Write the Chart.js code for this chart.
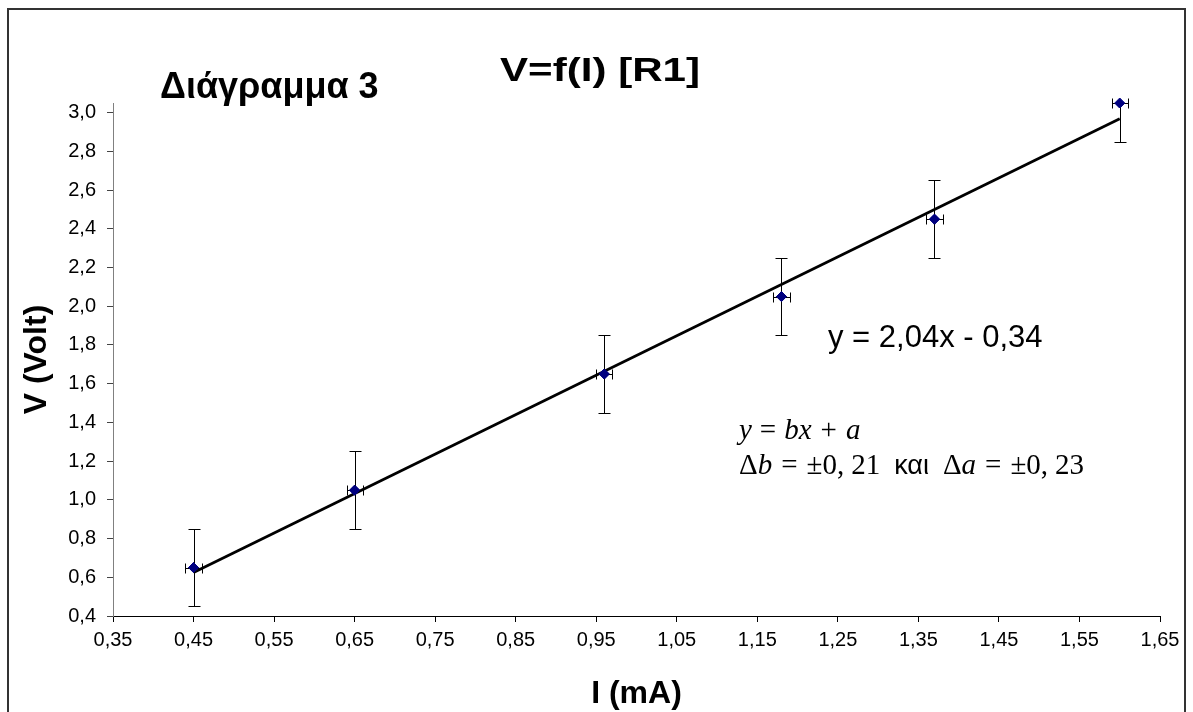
<!DOCTYPE html>
<html>
<head>
<meta charset="utf-8">
<title>Διάγραμμα 3</title>
<script src="https://cdn.jsdelivr.net/npm/chart.js@4"></script>
<style>
  html, body { margin: 0; padding: 0; background: #fff; }
  #wrap { width: 1193px; height: 712px; }
</style>
</head>
<body>
<div id="wrap"><canvas id="vChart" width="1193" height="712"></canvas></div>
<script>
// measurements: current I (mA) and voltage V (Volt)
const currentI = [0.45, 0.65, 0.96, 1.18, 1.37, 1.60];
const voltageV = [0.65, 1.05, 1.65, 2.05, 2.45, 3.05];
const errI = [0.01, 0.01, 0.01, 0.01, 0.01, 0.01]; // +/- on I
const errV = [0.2, 0.2, 0.2, 0.2, 0.2, 0.2];       // +/- on V

const xTickValues = [0.35, 0.45, 0.55, 0.65, 0.75, 0.85, 0.95, 1.05, 1.15, 1.25, 1.35, 1.45, 1.55, 1.65];
const yTickValues = [0.4, 0.6, 0.8, 1.0, 1.2, 1.4, 1.6, 1.8, 2.0, 2.2, 2.4, 2.6, 2.8, 3.0];

const titleText = 'Διάγραμμα 3';
const subTitleText = 'V=f(I) [R1]';
const fitLabel = 'y = 2,04x - 0,34';
const xTitle = 'I (mA)';
const yTitle = 'V (Volt)';

// least squares fit for the trendline
function linearFit(xs, ys) {
  const n = xs.length;
  const mx = xs.reduce((a, b) => a + b, 0) / n;
  const my = ys.reduce((a, b) => a + b, 0) / n;
  let sxy = 0, sxx = 0;
  for (let i = 0; i < n; i++) {
    sxy += (xs[i] - mx) * (ys[i] - my);
    sxx += (xs[i] - mx) * (xs[i] - mx);
  }
  const b = sxy / sxx;
  return { b, a: my - b * mx };
}
const fit = linearFit(currentI, voltageV);
const xMin = Math.min(...currentI), xMax = Math.max(...currentI);
const trendPoints = [
  { x: xMin, y: fit.b * xMin + fit.a },
  { x: xMax, y: fit.b * xMax + fit.a },
];

const comma = (v, d) => v.toFixed(d).replace('.', ',');

// text squeezed/stretched to a given width
function wideText(ctx, txt, x, y, w) {
  const nat = ctx.measureText(txt).width;
  ctx.save();
  ctx.translate(x, y);
  ctx.scale(w / nat, 1);
  ctx.textAlign = 'left';
  ctx.fillText(txt, 0, 0);
  ctx.restore();
}

// error bars, markers redrawn on top
const errorBars = {
  id: 'errorBars',
  afterDatasetsDraw(chart) {
    const { ctx, chartArea, scales: { x, y } } = chart;
    ctx.save();
    ctx.strokeStyle = '#000';
    ctx.lineWidth = 1;
    currentI.forEach((iv, k) => {
      const px = Math.round(x.getPixelForValue(iv)) + 0.5;
      const py = Math.round(y.getPixelForValue(voltageV[k])) + 0.5;
      let yTop = Math.round(y.getPixelForValue(voltageV[k] + errV[k])) + 0.5;
      const yBot = Math.round(y.getPixelForValue(voltageV[k] - errV[k])) + 0.5;
      const xL = Math.round(x.getPixelForValue(iv - errI[k])) + 0.5;
      const xR = Math.round(x.getPixelForValue(iv + errI[k])) + 0.5;
      const topCut = yTop < chartArea.top;
      if (topCut) yTop = py;
      ctx.beginPath();
      ctx.moveTo(px, yTop); ctx.lineTo(px, yBot);
      if (!topCut) { ctx.moveTo(px - 6, yTop); ctx.lineTo(px + 6, yTop); }
      ctx.moveTo(px - 6, yBot); ctx.lineTo(px + 6, yBot);
      ctx.moveTo(xL, py); ctx.lineTo(xR, py);
      ctx.moveTo(xL, py - 5); ctx.lineTo(xL, py + 5);
      ctx.moveTo(xR, py - 5); ctx.lineTo(xR, py + 5);
      ctx.stroke();
    });
    const meta = chart.getDatasetMeta(0);
    meta.data.forEach(p => p.draw(ctx, chart.chartArea));
    ctx.restore();
  }
};

// titles, labels, frame
const annotations = {
  id: 'annotations',
  afterDraw(chart) {
    const { ctx, chartArea } = chart;
    ctx.save();
    ctx.fillStyle = '#000';
    ctx.textBaseline = 'alphabetic';

    // outer frame
    ctx.strokeStyle = '#333';
    ctx.lineWidth = 2;
    ctx.beginPath();
    ctx.moveTo(8, 720); ctx.lineTo(8, 9); ctx.lineTo(1185, 9); ctx.lineTo(1185, 720);
    ctx.stroke();

    const sans = 'Arial, "Liberation Sans", sans-serif';
    ctx.textAlign = 'left';
    ctx.font = 'bold 36px ' + sans;
    ctx.fillText(titleText, 160, 98);
    ctx.font = 'bold 33px ' + sans;
    wideText(ctx, subTitleText, 500, 81, 200);
    ctx.font = '31px ' + sans;
    ctx.fillText(fitLabel, 828, 347);

    // axis titles, centred on the plot area
    const cx = (chartArea.left + chartArea.right) / 2;
    const cy = (chartArea.top + chartArea.bottom) / 2;
    ctx.font = 'bold 32px ' + sans;
    ctx.textAlign = 'center';
    ctx.fillText(xTitle, cx, 703);
    ctx.save();
    ctx.translate(46, cy);
    ctx.rotate(-Math.PI / 2);
    ctx.fillText(yTitle, 0, 0);
    ctx.restore();

    // formula block
    ctx.textAlign = 'left';
    const serif = '"Liberation Serif", "Times New Roman", serif';
    const drawParts = (parts, x0, base) => {
      let xx = x0;
      parts.forEach(([txt, st, gap]) => {
        if (st === 'sans') ctx.font = '27px ' + sans;
        else ctx.font = (st ? st + ' ' : '') + '29px ' + serif;
        ctx.fillText(txt, xx, base);
        xx += ctx.measureText(txt).width + (gap || 0);
      });
    };
    drawParts([
      ['y', 'italic', 8], ['=', '', 8], ['bx', 'italic', 9], ['+', '', 9], ['a', 'italic', 0],
    ], 739, 439);
    drawParts([
      ['Δ', '', 0], ['b', 'italic', 9], ['=', '', 9], ['±0,', '', 7], ['21', '', 14],
      ['και', 'sans', 14], ['Δ', '', 0], ['a', 'italic', 9], ['=', '', 9], ['±0,', '', 7], ['23', '', 0],
    ], 739, 474);
    ctx.restore();
  }
};

new Chart(document.getElementById('vChart'), {
  type: 'scatter',
  data: {
    datasets: [
      {
        label: 'V',
        data: currentI.map((iv, k) => ({ x: iv, y: voltageV[k] })),
        pointStyle: 'rectRot',
        pointRadius: 5,
        pointBackgroundColor: '#000080',
        pointBorderColor: '#000080',
        showLine: false,
      },
      {
        label: 'trend',
        type: 'line',
        data: trendPoints,
        borderColor: '#000',
        borderWidth: 2.8,
        pointRadius: 0,
        fill: false,
      },
    ],
  },
  options: {
    responsive: false,
    animation: false,
    devicePixelRatio: 1,
    layout: { padding: { left: 0, top: 103, right: 33, bottom: 0 } },
    plugins: { legend: { display: false }, tooltip: { enabled: false }, title: { display: false } },
    scales: {
      x: {
        type: 'linear',
        min: 0.35,
        max: 1.65,
        afterBuildTicks: s => { s.ticks = xTickValues.map(v => ({ value: v })); },
        afterFit: s => { s.height = 96; },
        ticks: {
          callback: v => comma(v, 2),
          color: '#000',
          font: { family: 'Arial, "Liberation Sans"', size: 20 },
          padding: 6,
          maxRotation: 0,
          autoSkip: false,
        },
        grid: { drawOnChartArea: false, drawTicks: true, tickLength: 6, color: '#000' },
        border: { display: true, color: '#000', width: 1 },
      },
      y: {
        type: 'linear',
        min: 0.4,
        max: 3.05,
        afterBuildTicks: s => { s.ticks = yTickValues.map(v => ({ value: v })); },
        afterFit: s => { s.width = 113; },
        ticks: {
          callback: v => comma(v, 1),
          color: '#000',
          font: { family: 'Arial, "Liberation Sans"', size: 20 },
          padding: 11,
          autoSkip: false,
        },
        grid: { drawOnChartArea: false, drawTicks: true, tickLength: 6, color: '#444' },
        border: { display: true, color: '#808080', width: 1 },
      },
    },
  },
  plugins: [errorBars, annotations],
});
</script>
</body>
</html>
